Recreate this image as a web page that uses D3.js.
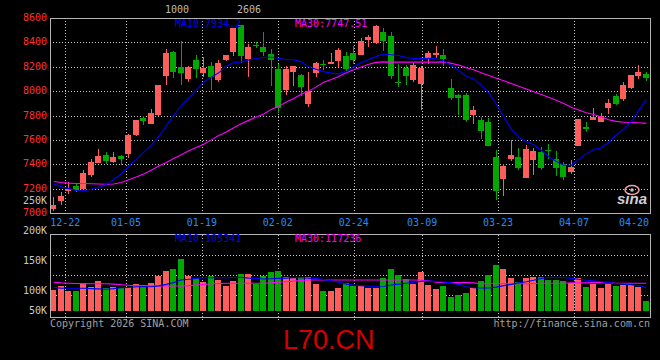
<!DOCTYPE html>
<html>
<head>
<meta charset="utf-8">
<script src="https://cdn.jsdelivr.net/npm/d3@7"></script>
<style>
  html, body { margin: 0; padding: 0; background: #000; }
  svg { display: block; }
</style>
</head>
<body>
<script>
// trading days shown on the chart
var dates = ['12-18','12-19','12-22','12-23','12-24','12-25','12-26','12-29','12-30','12-31',
  '01-05','01-06','01-07','01-08','01-09','01-12','01-13','01-14','01-15','01-16',
  '01-19','01-20','01-21','01-22','01-23','01-26','01-27','01-28','01-29','01-30',
  '02-02','02-03','02-04','02-05','02-06','02-09','02-10','02-11','02-12','02-13',
  '02-24','02-25','02-26','02-27','03-02','03-03','03-04','03-05','03-06','03-09',
  '03-10','03-11','03-12','03-13','03-16','03-17','03-18','03-19','03-20','03-23',
  '03-24','03-25','03-26','03-27','03-30','03-31','04-01','04-02','04-03','04-07',
  '04-08','04-09','04-10','04-13','04-14','04-15','04-16','04-17','04-20','04-21'];

var opens = [7035,7095,7182,7223,7193,7313,7413,7476,7416,7465,
  7481,7639,7781,7729,7802,8121,8325,8194,8099,8253,
  8151,8204,8092,8253,8324,8540,8265,8382,8362,8305,
  8178,8006,8156,8134,7892,8148,8225,8219,8247,8286,
  8313,8294,8417,8393,8483,8451,8077,8190,8090,8056,
  8275,8303,8294,8026,7966,7966,7802,7762,7748,7462,
  7280,7443,7460,7288,7435,7503,7521,7441,7404,7340,
  7552,7704,7759,7748,7862,7957,7933,8025,8121,8137];
var highs = [7128,7174,7253,7245,7354,7443,7525,7500,7503,7476,
  7647,7764,7794,7857,8053,8346,8333,8414,8205,8300,
  8276,8240,8253,8298,8521,8542,8390,8406,8484,8346,
  8224,8210,8210,8142,8156,8238,8259,8314,8355,8322,
  8367,8438,8462,8542,8515,8483,8222,8211,8233,8205,
  8327,8368,8343,8097,7974,7987,7876,7789,7781,7517,
  7400,7596,7530,7558,7530,7544,7565,7506,7420,7435,
  7775,7748,7865,7824,7938,7979,8074,8129,8216,8161];
var lows = [7019,7068,7158,7169,7188,7294,7410,7405,7411,7392,
  7454,7634,7721,7727,7800,8047,8107,8047,8075,8106,
  8114,8010,8078,8246,8292,8228,8116,8352,8290,8040,
  7824,7971,8039,7960,7870,8115,8170,8219,8199,8161,
  8226,8294,8362,8385,8330,8098,8032,8050,8071,7844,
  8224,8272,8203,7926,7802,7748,7729,7607,7549,7108,
  7140,7430,7354,7288,7313,7354,7446,7305,7272,7321,
  7552,7666,7759,7743,7816,7884,7917,8020,8102,8083];
var closes = [7068,7141,7201,7190,7329,7419,7468,7430,7460,7441,
  7642,7762,7753,7821,8047,8314,8156,8148,8197,8178,
  8190,8116,8229,8295,8517,8290,8358,8376,8320,8254,
  7865,8178,8205,8033,7998,8229,8218,8243,8338,8185,
  8259,8410,8443,8532,8415,8124,8071,8122,8211,8188,
  8313,8310,8267,7942,7944,7762,7843,7670,7550,7183,
  7389,7476,7367,7525,7509,7367,7516,7370,7299,7378,
  7775,7699,7786,7792,7906,7892,8047,8129,8161,8107];

// price moving averages
var ma10 = [7235,7215,7200,7185,7182,7195,7210,7235,7275,7320,
  7385,7440,7500,7555,7626,7715,7800,7880,7945,8010,
  8075,8115,8150,8205,8235,8240,8255,8268,8278,8278,
  8270,8257,8257,8240,8197,8180,8160,8148,8142,8160,
  8200,8235,8260,8285,8305,8298,8292,8275,8268,8268,
  8270,8265,8250,8210,8170,8120,8100,8047,7985,7895,
  7790,7690,7620,7585,7560,7515,7462,7425,7392,7392,
  7440,7485,7520,7535,7580,7640,7690,7750,7840,7930];
var ma30 = [7258,7250,7245,7242,7242,7240,7238,7236,7238,7250,
  7272,7295,7320,7350,7385,7415,7448,7478,7510,7537,
  7565,7600,7635,7665,7700,7732,7760,7788,7812,7850,
  7875,7910,7940,7975,8000,8035,8072,8095,8120,8150,
  8175,8198,8220,8236,8240,8238,8238,8238,8238,8238,
  8238,8238,8240,8228,8215,8192,8175,8150,8128,8105,
  8085,8062,8040,8018,7995,7972,7950,7925,7898,7868,
  7845,7822,7808,7788,7765,7752,7745,7742,7740,7735];

// volume and its averages
var volumes = [101700,108300,100000,100000,112800,107200,116700,104400,107200,104400,
  107200,111700,106500,113000,125600,133900,137200,153600,125600,121100,
  115600,125000,118300,108900,117200,128300,128300,111700,125600,131700,
  133900,123900,121100,122800,122800,111700,100000,100600,105600,112800,
  108300,108300,105600,105600,122200,136700,126700,120000,111100,131700,
  110000,103300,108300,90600,93300,96100,104400,116700,126700,143300,
  137200,122200,115600,122200,123900,122800,118300,118300,116700,112800,
  122200,107200,111700,105600,111100,108300,110000,110000,107200,83300];
var volMa10 = [106000,104500,104500,104500,104500,104000,103500,103000,104000,105500,
  106000,107000,107000,107200,108500,111000,114000,118500,119500,121000,
  122000,122200,122200,122000,122500,122800,121500,121000,120000,120500,
  121000,121500,122000,122000,121500,121000,119000,117000,114500,111500,
  110000,109000,108000,107200,107500,110000,111500,113000,114500,116000,
  116500,116000,115000,113500,111000,107000,105500,105000,105000,106500,
  109000,111000,113500,115500,118000,121000,122500,123000,122500,121000,
  119500,118000,117000,115500,114000,112500,111500,110500,109000,105300];
var volMa30 = [114500,113500,113000,112500,112300,112000,112000,112000,111500,110500,
  109500,109000,108900,108500,108300,108300,108300,108500,109000,110000,
  111000,112000,112500,112800,112800,112800,113000,113000,113000,113500,
  114500,115500,116500,117500,118300,118300,118300,118300,118300,118300,
  118300,118300,118300,118300,118300,118300,118300,118300,118300,118000,
  117000,114500,113900,113900,113900,113900,113500,112000,112000,112000,
  112000,112000,112000,112000,112500,112800,112800,112800,112800,113500,
  113500,113500,113900,113900,113500,112800,112800,112800,112800,112800];

var dateTicks = ['12-22','01-05','01-19','02-02','02-24','03-09','03-23','04-07','04-20'];
var priceTicks = [8600,8400,8200,8000,7800,7600,7400,7200,7000];
var volTicks = [250000,200000,150000,100000,50000];
var priceLegend = ['MA10:7934.2', 'MA30:7747.51'];
var volLegend = ['MA10:105341', 'MA30:117236'];

var W = 660, H = 360;
var left = 50, right = 650, top1 = 18, bottom1 = 213;
var top2 = 234.5, bottom2 = 317.5, volFloor = 311;
var red = '#ff5c5c', green = '#00a800', blue = '#0000ff', pink = '#ff00ff';
var mono = 'DejaVu Sans Mono, monospace';

var svg = d3.select('body').append('svg')
    .attr('width', W)
    .attr('height', H)
    .style('background', '#000');

var x = d3.scaleBand().domain(dates).range([left, right]).paddingInner(0.2).paddingOuter(0.1);
var xGrid = d3.scalePoint().domain(dates).range([left, right]);
var y = d3.scaleLinear().domain([7000, 8600]).range([bottom1, top1]);
var yV = d3.scaleLinear().domain([100000, 250000]).range([291, 201]);

var bx = function(i) { return Math.floor(x(dates[i])); };
var mid = function(i) { return Math.floor(x(dates[i])) + 3.5; };

// grid
var grid = svg.append('g')
    .attr('stroke', '#c8c8c8')
    .attr('stroke-dasharray', '1,2')
    .attr('shape-rendering', 'crispEdges');

grid.selectAll('.hg').data(priceTicks.slice(1, -1)).enter().append('line')
    .attr('x1', left).attr('x2', right)
    .attr('y1', function(d) { return Math.round(y(d)) + 0.5; })
    .attr('y2', function(d) { return Math.round(y(d)) + 0.5; });

grid.selectAll('.vhg').data([1, 2, 3]).enter().append('line')
    .attr('x1', left).attr('x2', right)
    .attr('y1', function(k) { return 235.5 + k * 20; })
    .attr('y2', function(k) { return 235.5 + k * 20; });

var gridDates = dateTicks.filter(function(d) { return xGrid(d) < right - 10; });
grid.selectAll('.vg').data(gridDates).enter().append('line')
    .attr('x1', function(d) { return Math.round(xGrid(d)) + 0.5; })
    .attr('x2', function(d) { return Math.round(xGrid(d)) + 0.5; })
    .attr('y1', top1).attr('y2', bottom1);

grid.selectAll('.vg2').data(gridDates).enter().append('line')
    .attr('x1', function(d) { return Math.round(xGrid(d)) + 0.5; })
    .attr('x2', function(d) { return Math.round(xGrid(d)) + 0.5; })
    .attr('y1', top2).attr('y2', 322);

// candles
var idx = d3.range(dates.length);
var up = function(i) { return closes[i] >= opens[i]; };

var candles = svg.append('g').attr('shape-rendering', 'crispEdges');
candles.selectAll('.wick').data(idx).enter().append('line')
    .attr('x1', mid).attr('x2', mid)
    .attr('y1', function(i) { return y(highs[i]); })
    .attr('y2', function(i) { return y(lows[i]); })
    .attr('stroke', function(i) { return up(i) ? red : green; });

candles.selectAll('.body').data(idx).enter().append('rect')
    .attr('x', bx)
    .attr('width', 6)
    .attr('y', function(i) { return y(Math.max(opens[i], closes[i])); })
    .attr('height', function(i) { return Math.max(1.5, Math.abs(y(opens[i]) - y(closes[i]))); })
    .attr('fill', function(i) { return up(i) ? red : green; });

// volume bars
svg.append('g').attr('shape-rendering', 'crispEdges')
  .selectAll('rect').data(idx).enter().append('rect')
    .attr('x', bx)
    .attr('width', 6)
    .attr('y', function(i) { return yV(volumes[i]); })
    .attr('height', function(i) { return volFloor - yV(volumes[i]); })
    .attr('fill', function(i) { return up(i) ? red : green; });

// moving average lines
function maLine(arr, scale, color) {
    var line = d3.line()
        .x(function(d, i) { return x(dates[i]) + x.bandwidth() / 2; })
        .y(function(d) { return scale(d); });
    svg.append('path')
        .attr('d', line(arr))
        .attr('fill', 'none')
        .attr('stroke', color)
        .attr('stroke-width', 1.1);
}
maLine(ma30, y, pink);
maLine(ma10, y, blue);
maLine(volMa30, yV, pink);
maLine(volMa10, yV, blue);

// panel borders
var frame = svg.append('g')
    .attr('stroke', '#b4b4b4')
    .attr('fill', 'none')
    .attr('shape-rendering', 'crispEdges');
frame.append('rect').attr('x', left + 0.5).attr('y', top1 + 0.5)
    .attr('width', right - left).attr('height', bottom1 - top1);
frame.append('rect').attr('x', left + 0.5).attr('y', top2)
    .attr('width', right - left).attr('height', bottom2 - top2);

// price axis labels
svg.selectAll('.pl').data(priceTicks).enter().append('text')
    .attr('x', 47)
    .attr('y', function(d) { return y(d); })
    .attr('dy', '0.3em')
    .attr('text-anchor', 'end')
    .attr('font-family', mono)
    .attr('font-size', 10)
    .attr('fill', '#ff3030')
    .text(function(d) { return d; });

// volume axis labels
svg.selectAll('.vl').data(volTicks).enter().append('text')
    .attr('x', 47)
    .attr('y', function(d) { return Math.min(yV(d), volFloor); })
    .attr('dy', '0.3em')
    .attr('text-anchor', 'end')
    .attr('font-family', mono)
    .attr('font-size', 10)
    .attr('fill', '#c8c8c8')
    .text(function(d) { return (d / 1000) + 'K'; });

// date labels
svg.selectAll('.dl').data(dateTicks).enter().append('text')
    .attr('x', function(d) { return Math.min(xGrid(d), right - 16); })
    .attr('y', 225.5)
    .attr('text-anchor', 'middle')
    .attr('font-family', mono)
    .attr('font-size', 10)
    .attr('fill', '#1e8cff')
    .text(function(d) { return d; });

// legends
function legend(txts, yy) {
    svg.append('text').attr('x', 175).attr('y', yy)
        .attr('font-family', mono).attr('font-size', 10)
        .attr('fill', blue).text(txts[0]);
    svg.append('text').attr('x', 295).attr('y', yy)
        .attr('font-family', mono).attr('font-size', 10)
        .attr('fill', pink).text(txts[1]);
}
legend(priceLegend, 27);
legend(volLegend, 242);

svg.append('text').attr('x', 165).attr('y', 13)
    .attr('font-family', mono).attr('font-size', 10)
    .attr('fill', '#bbbbbb').text('1000');
svg.append('text').attr('x', 237).attr('y', 13)
    .attr('font-family', mono).attr('font-size', 10)
    .attr('fill', '#bbbbbb').text('2606');

// sina watermark
svg.append('ellipse')
    .attr('cx', 632).attr('cy', 190).attr('rx', 7).attr('ry', 4.5)
    .attr('fill', 'none').attr('stroke', '#f0a0a0').attr('stroke-width', 1.5);
svg.append('circle')
    .attr('cx', 632).attr('cy', 190).attr('r', 1.8)
    .attr('fill', '#c0c0c0');
svg.append('text').attr('x', 617).attr('y', 204)
    .attr('font-family', 'Liberation Sans, sans-serif')
    .attr('font-size', 15).attr('font-style', 'italic').attr('font-weight', 'bold')
    .attr('fill', '#d0d0d0').text('sina');

// footer
svg.append('text').attr('x', 50).attr('y', 327)
    .attr('font-family', mono).attr('font-size', 10)
    .attr('fill', '#a0a0a0').text('Copyright 2026 SINA.COM');
svg.append('text').attr('x', 650).attr('y', 327)
    .attr('text-anchor', 'end')
    .attr('font-family', mono).attr('font-size', 10)
    .attr('fill', '#a0a0a0').text('http://finance.sina.com.cn');
svg.append('text').attr('x', 283).attr('y', 349)
    .attr('font-family', 'Liberation Sans, Arial, sans-serif')
    .attr('font-size', 27)
    .attr('fill', '#d40000').text('L70.CN');
</script>
</body>
</html>
